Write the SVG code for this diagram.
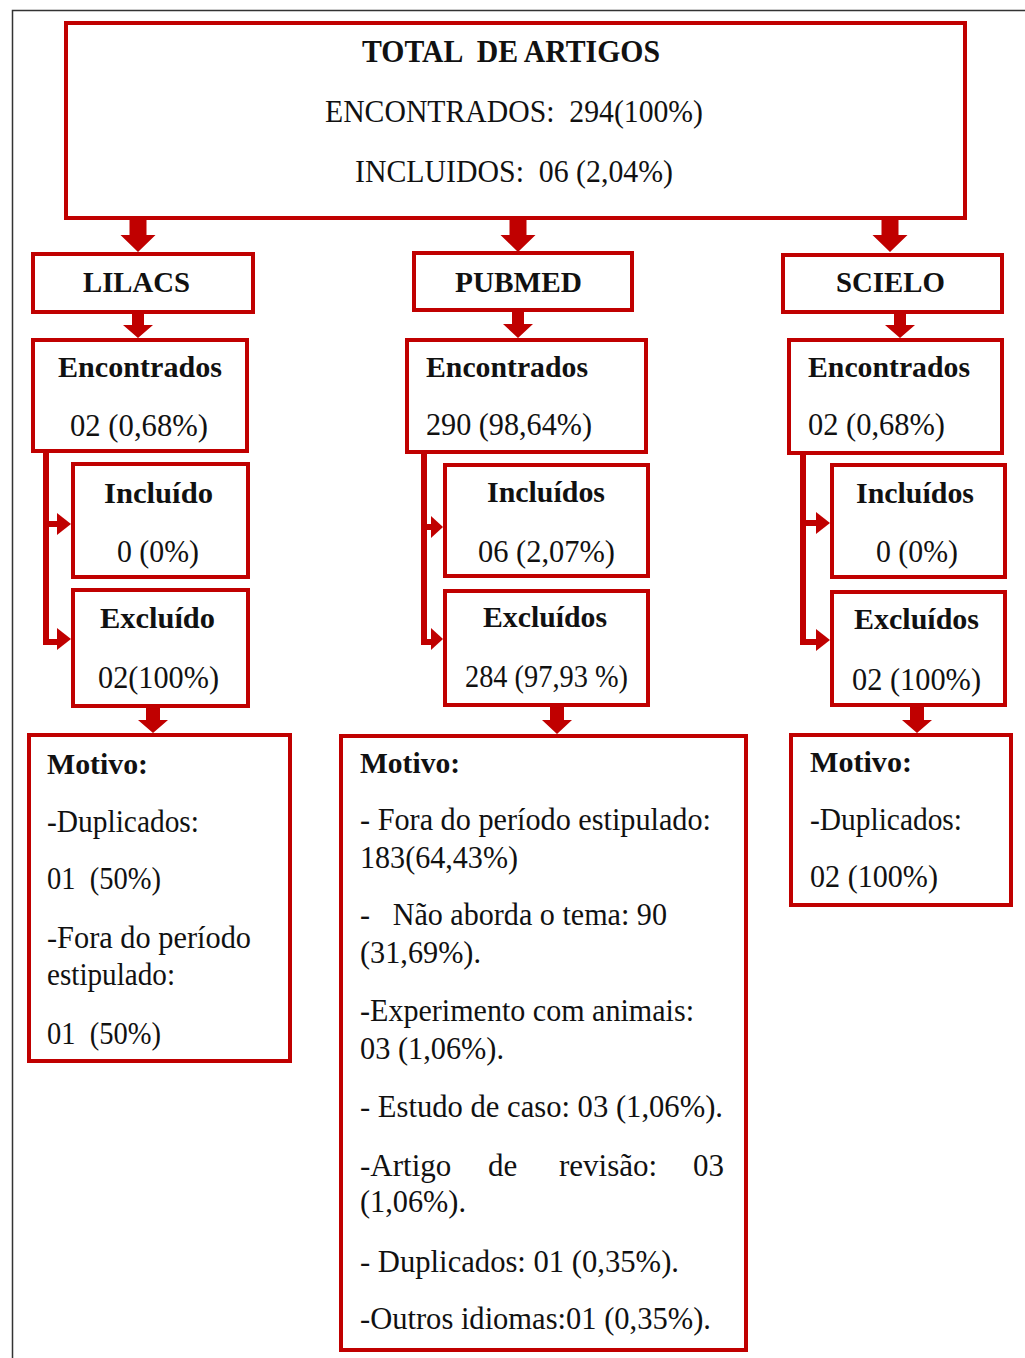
<svg xmlns="http://www.w3.org/2000/svg" width="1025" height="1358" viewBox="0 0 1025 1358">
<style>
.box{fill:#fff;stroke:#C00000;stroke-width:4}
.r{font-family:"Liberation Serif","Times New Roman",serif;font-size:31px;fill:#111}
.b{font-family:"Liberation Serif","Times New Roman",serif;font-size:29px;font-weight:bold;fill:#111}
.ar{fill:#C00000}
.ln{fill:none;stroke:#C00000;stroke-width:6}
.pre{white-space:pre}
</style>
<rect width="1025" height="1358" fill="#fff"/>
<path d="M12.5 1358 V10.5 H1025" fill="none" stroke="#333" stroke-width="1.5"/>

<g id="connectors">
  <!-- top to databases -->
  <path class="ar" d="M129.5 218 h17 v17 h9 l-17.5 17 l-17.5 -17 h9 z"/>
  <path class="ar" d="M509.5 218 h17 v17 h9 l-17.5 17 l-17.5 -17 h9 z"/>
  <path class="ar" d="M881.5 218 h17 v17 h9 l-17.5 17 l-17.5 -17 h9 z"/>
  <!-- header to encontrados -->
  <path class="ar" d="M132 314 h12 v11 h9 l-15 13 l-15 -13 h9 z"/>
  <path class="ar" d="M512 311 h12 v13 h9 l-15 14 l-15 -14 h9 z"/>
  <path class="ar" d="M894 314 h12 v11 h9 l-15 13 l-15 -13 h9 z"/>
  <!-- side connectors LILACS -->
  <path class="ln" d="M46 453 V642 H60"/>
  <path class="ln" d="M46 524 H60" stroke-width="8"/>
  <path class="ar" d="M57 513 L71 524 L57 535 z"/>
  <path class="ar" d="M57 628 L71 639 L57 650 z"/>
  <!-- side connectors PUBMED -->
  <path class="ln" d="M424 454 V642 H434"/>
  <path class="ln" d="M424 527 H434" stroke-width="8"/>
  <path class="ar" d="M431 516 L443 527 L431 538 z"/>
  <path class="ar" d="M431 628 L443 639 L431 650 z"/>
  <!-- side connectors SCIELO -->
  <path class="ln" d="M803 455 V642 H818"/>
  <path class="ln" d="M803 523 H818" stroke-width="8"/>
  <path class="ar" d="M816 512 L830 523 L816 534 z"/>
  <path class="ar" d="M816 629 L830 640 L816 651 z"/>
  <!-- excluded to motivo -->
  <path class="ar" d="M146 708 h14 v12 h8 l-15 13 l-15 -13 h8 z"/>
  <path class="ar" d="M550 707 h14 v13 h8 l-15 14 l-15 -14 h8 z"/>
  <path class="ar" d="M910 707 h14 v13 h8 l-15 13 l-15 -13 h8 z"/>
</g>

<g id="total">
  <rect class="box" x="66" y="23" width="899" height="195"/>
  <text class="b pre" xml:space="preserve" x="362" y="62" textLength="298" lengthAdjust="spacingAndGlyphs" style="font-size:31px">TOTAL  DE ARTIGOS</text>
  <text class="r pre" xml:space="preserve" x="325" y="122" textLength="378" lengthAdjust="spacingAndGlyphs">ENCONTRADOS:  294(100%)</text>
  <text class="r pre" xml:space="preserve" x="355" y="182" textLength="318" lengthAdjust="spacingAndGlyphs">INCLUIDOS:  06 (2,04%)</text>
</g>

<g id="lilacs">
  <rect class="box" x="33" y="254" width="220" height="58"/>
  <text class="b" x="83" y="292" textLength="107" lengthAdjust="spacingAndGlyphs" style="font-size:30px">LILACS</text>
</g>
<g id="pubmed">
  <rect class="box" x="414" y="253" width="218" height="57"/>
  <text class="b" x="455" y="292" textLength="127" lengthAdjust="spacingAndGlyphs" style="font-size:30px">PUBMED</text>
</g>
<g id="scielo">
  <rect class="box" x="783" y="255" width="219" height="57"/>
  <text class="b" x="836" y="292" textLength="109" lengthAdjust="spacingAndGlyphs" style="font-size:30px">SCIELO</text>
</g>

<g id="lilacs-encontrados">
  <rect class="box" x="33" y="340" width="214" height="111"/>
  <text class="b" x="58" y="377" textLength="164" lengthAdjust="spacingAndGlyphs">Encontrados</text>
  <text class="r" x="70" y="436" textLength="138" lengthAdjust="spacingAndGlyphs">02 (0,68%)</text>
</g>
<g id="pubmed-encontrados">
  <rect class="box" x="407" y="340" width="239" height="112"/>
  <text class="b" x="426" y="377" textLength="162" lengthAdjust="spacingAndGlyphs">Encontrados</text>
  <text class="r" x="426" y="435" textLength="166" lengthAdjust="spacingAndGlyphs">290 (98,64%)</text>
</g>
<g id="scielo-encontrados">
  <rect class="box" x="789" y="340" width="213" height="113"/>
  <text class="b" x="808" y="377" textLength="162" lengthAdjust="spacingAndGlyphs">Encontrados</text>
  <text class="r" x="808" y="435" textLength="137" lengthAdjust="spacingAndGlyphs">02 (0,68%)</text>
</g>

<g id="lilacs-incluido">
  <rect class="box" x="73" y="464" width="175" height="113"/>
  <text class="b" x="104" y="503" textLength="109" lengthAdjust="spacingAndGlyphs">Incluído</text>
  <text class="r" x="117" y="562" textLength="82" lengthAdjust="spacingAndGlyphs">0 (0%)</text>
</g>
<g id="lilacs-excluido">
  <rect class="box" x="73" y="590" width="175" height="116"/>
  <text class="b" x="100" y="628" textLength="115" lengthAdjust="spacingAndGlyphs">Excluído</text>
  <text class="r" x="98" y="688" textLength="121" lengthAdjust="spacingAndGlyphs">02(100%)</text>
</g>
<g id="pubmed-incluidos">
  <rect class="box" x="445" y="465" width="203" height="111"/>
  <text class="b" x="487" y="502" textLength="118" lengthAdjust="spacingAndGlyphs">Incluídos</text>
  <text class="r" x="478" y="562" textLength="137" lengthAdjust="spacingAndGlyphs">06 (2,07%)</text>
</g>
<g id="pubmed-excluidos">
  <rect class="box" x="445" y="591" width="203" height="114"/>
  <text class="b" x="483" y="627" textLength="124" lengthAdjust="spacingAndGlyphs">Excluídos</text>
  <text class="r" x="465" y="687" textLength="163" lengthAdjust="spacingAndGlyphs">284 (97,93 %)</text>
</g>
<g id="scielo-incluidos">
  <rect class="box" x="832" y="465" width="173" height="112"/>
  <text class="b" x="856" y="503" textLength="118" lengthAdjust="spacingAndGlyphs">Incluídos</text>
  <text class="r" x="876" y="562" textLength="82" lengthAdjust="spacingAndGlyphs">0 (0%)</text>
</g>
<g id="scielo-excluidos">
  <rect class="box" x="832" y="592" width="173" height="113"/>
  <text class="b" x="854" y="629" textLength="125" lengthAdjust="spacingAndGlyphs">Excluídos</text>
  <text class="r" x="852" y="690" textLength="129" lengthAdjust="spacingAndGlyphs">02 (100%)</text>
</g>

<g id="lilacs-motivo">
  <rect class="box" x="29" y="735" width="261" height="326"/>
  <text class="b" x="47" y="774" textLength="101" lengthAdjust="spacingAndGlyphs">Motivo:</text>
  <text class="r" x="47" y="832" textLength="152" lengthAdjust="spacingAndGlyphs">-Duplicados:</text>
  <text class="r pre" xml:space="preserve" x="47" y="889" textLength="114" lengthAdjust="spacingAndGlyphs">01  (50%)</text>
  <text class="r" x="47" y="948" textLength="204" lengthAdjust="spacingAndGlyphs">-Fora do período</text>
  <text class="r" x="47" y="985" textLength="128" lengthAdjust="spacingAndGlyphs">estipulado:</text>
  <text class="r pre" xml:space="preserve" x="47" y="1044" textLength="114" lengthAdjust="spacingAndGlyphs">01  (50%)</text>
</g>

<g id="pubmed-motivo">
  <rect class="box" x="341" y="736" width="405" height="614"/>
  <text class="b" x="360" y="773" textLength="100" lengthAdjust="spacingAndGlyphs">Motivo:</text>
  <text class="r" x="360" y="830" textLength="351" lengthAdjust="spacingAndGlyphs">- Fora do período estipulado:</text>
  <text class="r" x="360" y="868" textLength="158" lengthAdjust="spacingAndGlyphs">183(64,43%)</text>
  <text class="r pre" xml:space="preserve" x="360" y="925" textLength="307" lengthAdjust="spacingAndGlyphs">-   Não aborda o tema: 90</text>
  <text class="r" x="360" y="963" textLength="121" lengthAdjust="spacingAndGlyphs">(31,69%).</text>
  <text class="r" x="360" y="1021" textLength="334" lengthAdjust="spacingAndGlyphs">-Experimento com animais:</text>
  <text class="r" x="360" y="1059" textLength="144" lengthAdjust="spacingAndGlyphs">03 (1,06%).</text>
  <text class="r" x="360" y="1117" textLength="363" lengthAdjust="spacingAndGlyphs">- Estudo de caso: 03 (1,06%).</text>
  <text class="r" y="1176"><tspan x="360">-Artigo</tspan><tspan x="488">de</tspan><tspan x="559">revisão:</tspan><tspan x="693">03</tspan></text>
  <text class="r" x="360" y="1212" textLength="106" lengthAdjust="spacingAndGlyphs">(1,06%).</text>
  <text class="r" x="360" y="1272" textLength="319" lengthAdjust="spacingAndGlyphs">- Duplicados: 01 (0,35%).</text>
  <text class="r" x="360" y="1329" textLength="351" lengthAdjust="spacingAndGlyphs">-Outros idiomas:01 (0,35%).</text>
</g>

<g id="scielo-motivo">
  <rect class="box" x="791" y="735" width="220" height="170"/>
  <text class="b" x="810" y="772" textLength="102" lengthAdjust="spacingAndGlyphs">Motivo:</text>
  <text class="r" x="810" y="830" textLength="152" lengthAdjust="spacingAndGlyphs">-Duplicados:</text>
  <text class="r" x="810" y="887" textLength="128" lengthAdjust="spacingAndGlyphs">02 (100%)</text>
</g>
</svg>
